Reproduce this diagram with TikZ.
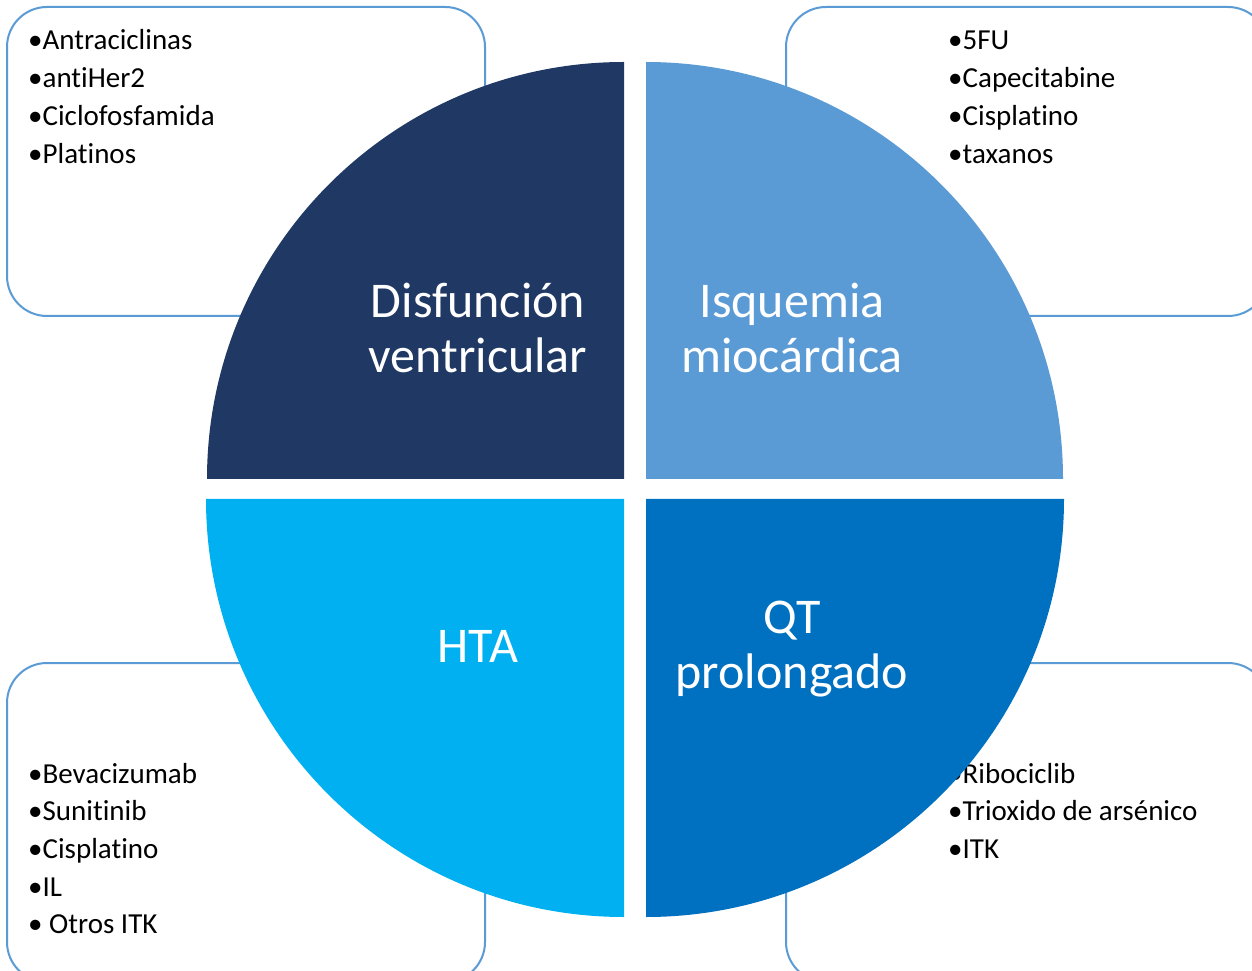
\documentclass[tikz,border=0pt]{standalone}
\usepackage{fontspec}
\setmainfont{Carlito}[Ligatures={NoCommon}, RawFeature={-liga;-clig;-dlig}]
\definecolor{qnavy}{HTML}{203864}
\definecolor{qlight}{HTML}{5B9BD5}
\definecolor{qcyan}{HTML}{00B0F0}
\definecolor{qblue}{HTML}{0070C0}
\definecolor{boxline}{HTML}{5B9BD5}
\tikzset{
  listbox/.style={draw=boxline, line width=2pt, rounded corners=40pt, fill=white},
  item/.style={anchor=base west, inner sep=0pt, font=\fontsize{29}{35}\selectfont, text=black},
  biglabel/.style={anchor=base, inner sep=0pt, font=\fontsize{50}{57}\selectfont, text=white}
}
\begin{document}
\begin{tikzpicture}[x=1pt,y=1pt]
\useasboundingbox (0,0) rectangle (1252,970);
\fill[white] (0,0) rectangle (1252,970);
% boxes
\draw[listbox] (7,654) rectangle (485,963);
\draw[listbox] (786,654) rectangle (1268,963);
\draw[listbox] (7,-12) rectangle (485,307);
\draw[listbox] (786,-12) rectangle (1268,307);
% box texts
\foreach \t [count=\i] in {Antraciclinas,antiHer2,Ciclofosfamida,Platinos}
  \node[item] (tl\i) at (28,{920-37.7*(\i-1)}) {•\t};
\foreach \t [count=\i] in {5FU,Capecitabine,Cisplatino,taxanos}
  \node[item] (tr\i) at (948,{920-37.7*(\i-1)}) {•\t};
\foreach \t [count=\i] in {Bevacizumab,Sunitinib,Cisplatino,IL,{ Otros ITK}}
  \node[item] (bl\i) at (28,{187-37.7*(\i-1)}) {•\t};
\foreach \t [count=\i] in {Ribociclib,Trioxido de arsénico,ITK}
  \node[item] (br\i) at (948,{187-37.7*(\i-1)}) {•\t};
% quadrants
\fill[qnavy] (624,491) -- (207,491) arc[start angle=180, end angle=90, radius=417] -- cycle;
\fill[qlight] (646,491) -- (646,908) arc[start angle=90, end angle=0, radius=417] -- cycle;
\fill[qcyan] (624,471) -- (624,53) arc[start angle=270, end angle=180, radius=418] -- cycle;
\fill[qblue] (646,471) -- (1064,471) arc[start angle=0, end angle=-90, radius=418] -- cycle;
% labels
\node[biglabel] (dv1) at (478,652) {Disfunción};
\node[biglabel] (dv2) at (478,597) {ventricular};
\node[biglabel] (im1) at (792,652) {Isquemia};
\node[biglabel] (im2) at (792,597) {miocárdica};
\node[biglabel] (hta) at (478,308) {HTA};
\node[biglabel] (qt1) at (792,337) {QT};
\node[biglabel] (qt2) at (792,282) {prolongado};
\end{tikzpicture}
\end{document}
